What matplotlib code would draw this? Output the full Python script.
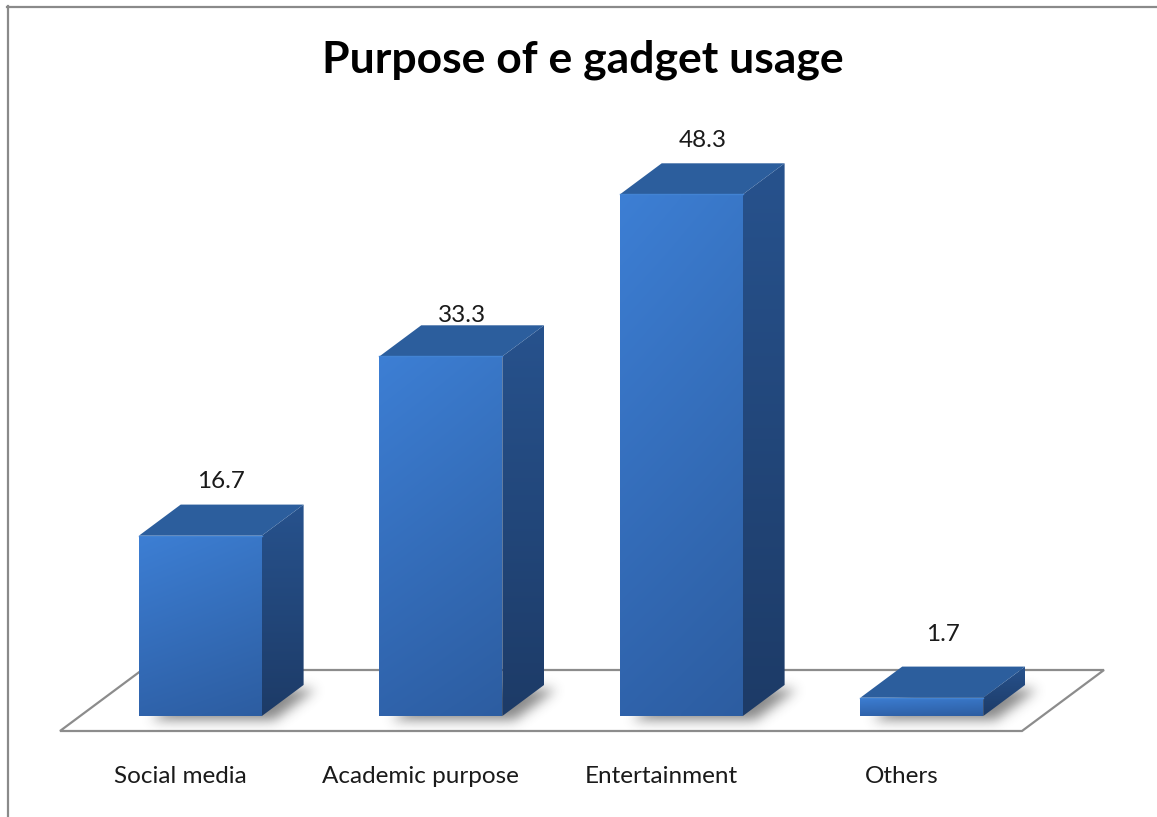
import numpy as np
import matplotlib
matplotlib.use("Agg")
import matplotlib.pyplot as plt
from matplotlib.patches import Polygon
from matplotlib.path import Path
from matplotlib.lines import Line2D
from matplotlib.colors import to_rgb

# ---- data ----
categories = ["Social media", "Academic purpose", "Entertainment", "Others"]
values = [16.7, 33.3, 48.3, 1.7]
title = "Purpose of e gadget usage"

# ---- layout (pixels) ----
W, H = 1157, 817
floor_left_px, floor_right_px, floor_front_px = 60, 1022, 731
px_per_unit = 10.8
slot_px = (floor_right_px - floor_left_px) / len(categories)
floor_depth_dx_px, floor_depth_dy_px = 82, 61
bar_width = 0.511          # fraction of a slot
bar_d0, bar_d1 = 0.245, 0.755  # depth span of the bars inside the floor
label_lift_px = [17, 3, 16, 26]

FONT = ["Lato", "DejaVu Sans"]

fig = plt.figure(figsize=(W / 100, H / 100), dpi=100)
fig.patch.set_facecolor("white")
ax = fig.add_axes([0, 0, 1, 1])
ax.axis("off")

depth_dx = floor_depth_dx_px / slot_px
depth_dy = floor_depth_dy_px / px_per_unit


def proj(x, v, d):
    """Oblique projection: slot position x, value v, depth d (0 front .. 1 back)."""
    return (x + d * depth_dx, v + d * depth_dy)


def px_to_data(px, py):
    return ((px - floor_left_px) / slot_px, (floor_front_px - py) / px_per_unit)


def grad_fill(verts, top, bot, zorder, left_right=(1.0, 1.0)):
    poly = Polygon(verts, closed=True, facecolor="none", edgecolor="none", zorder=zorder)
    ax.add_patch(poly)
    xs, ys = zip(*verts)
    n, m = 96, 32
    t = np.linspace(0, 1, n)[:, None, None]
    s = np.linspace(left_right[0], left_right[1], m)[None, :, None]
    c = (np.array(to_rgb(top)) * (1 - t) + np.array(to_rgb(bot)) * t) * s
    im = ax.imshow(np.clip(c, 0, 1), extent=[min(xs), max(xs), min(ys), max(ys)],
                   origin="upper", aspect="auto", zorder=zorder, interpolation="bilinear")
    im.set_clip_path(poly)


n_cat = len(categories)

# ---- floor ----
floor = [proj(0, 0, 0), proj(n_cat, 0, 0), proj(n_cat, 0, 1), proj(0, 0, 1)]
floor_patch = Polygon(floor, closed=True, facecolor="white", edgecolor="#8c8c8c",
                      linewidth=1.6, zorder=1)
ax.add_patch(floor_patch)

# ---- soft shadows on the floor ----
py0, py1, pxa, pxb = 630, 750, 30, 1140
PY, PX = np.mgrid[py0:py1, pxa:pxb] + 0.5
XD, YD = px_to_data(PX, PY)
pts = np.column_stack([XD.ravel(), YD.ravel()])
mask = np.zeros(PX.shape)
sx, sy = 12 / slot_px, -4 / px_per_unit
for i, v in enumerate(values):
    x0 = i + 0.5 - bar_width / 2
    x1 = i + 0.5 + bar_width / 2
    foot = [proj(x0, 0, bar_d0), proj(x1, 0, bar_d0), proj(x1, 0, bar_d1), proj(x0, 0, bar_d1)]
    foot = [(a + sx, b + sy) for a, b in foot]
    mask += Path(foot).contains_points(pts).reshape(PX.shape)
sig = 6.0
k = np.exp(-0.5 * (np.arange(-20, 21) / sig) ** 2)
k /= k.sum()
mask = np.apply_along_axis(lambda r: np.convolve(r, k, mode="same"), 1, mask)
mask = np.apply_along_axis(lambda r: np.convolve(r, k, mode="same"), 0, mask)
rgba = np.zeros(PX.shape + (4,))
rgba[..., :3] = 0.22
rgba[..., 3] = np.clip(mask, 0, 1) * 0.6
l, t_ = px_to_data(pxa, py0)
r, b_ = px_to_data(pxb, py1)
sh = ax.imshow(rgba, extent=[l, r, b_, t_], origin="upper", aspect="auto",
               zorder=2, interpolation="bilinear")
sh.set_clip_path(floor_patch)

# ---- 3D bars ----
for i, v in enumerate(values):
    x0 = i + 0.5 - bar_width / 2
    x1 = i + 0.5 + bar_width / 2
    front = [proj(x0, 0, bar_d0), proj(x1, 0, bar_d0), proj(x1, v, bar_d0), proj(x0, v, bar_d0)]
    top = [proj(x0, v, bar_d0), proj(x1, v, bar_d0), proj(x1, v, bar_d1), proj(x0, v, bar_d1)]
    side = [proj(x1, 0, bar_d0), proj(x1, 0, bar_d1), proj(x1, v, bar_d1), proj(x1, v, bar_d0)]
    zb = 3 + i * 0.1
    grad_fill(front, "#3b7bce", "#2e60a6", zb, (1.03, 0.97))
    grad_fill(side, "#27528d", "#1d3b67", zb)
    ax.add_patch(Polygon(top, closed=True, facecolor="#2c5e9d", edgecolor="none", zorder=zb))
    # light bevel along the front-top edge
    ax.add_line(Line2D([front[3][0], front[2][0]], [front[3][1], front[2][1]],
                       color="#4283d3", linewidth=1.0, zorder=zb + 0.05))
    # value label above the bar
    cx, _ = proj(i + 0.5, v, 0.5)
    _, back_top = proj(x0, v, bar_d1)
    ax.text(cx, back_top + label_lift_px[i] / px_per_unit, f"{v:.1f}",
            ha="center", va="baseline", fontsize=17.5, family=FONT,
            color="#1a1a1a", zorder=6)

# ---- category labels ----
for i, name in enumerate(categories):
    ax.text(i + 0.5, (floor_front_px - 783) / px_per_unit, name, ha="center",
            va="baseline", fontsize=17.5, family=FONT, color="#1a1a1a", zorder=6)

# ---- title ----
fig.text(582.5 / W, 1 - 73 / H, title, ha="center", va="baseline", fontsize=32,
         fontweight="bold", family=FONT, color="black")

# ---- chart frame ----
fig.add_artist(Line2D([7.5 / W, 7.5 / W], [0, 1 - 6 / H], transform=fig.transFigure,
                      color="#8a8a8a", linewidth=1.6))
fig.add_artist(Line2D([7 / W, 1], [1 - 6.5 / H, 1 - 6.5 / H], transform=fig.transFigure,
                      color="#8a8a8a", linewidth=1.6))

xl, yb = px_to_data(0, H)
xr, yt = px_to_data(W, 0)
ax.set_xlim(xl, xr)
ax.set_ylim(yb, yt)

fig.savefig("out.png", dpi=100, facecolor="white")
